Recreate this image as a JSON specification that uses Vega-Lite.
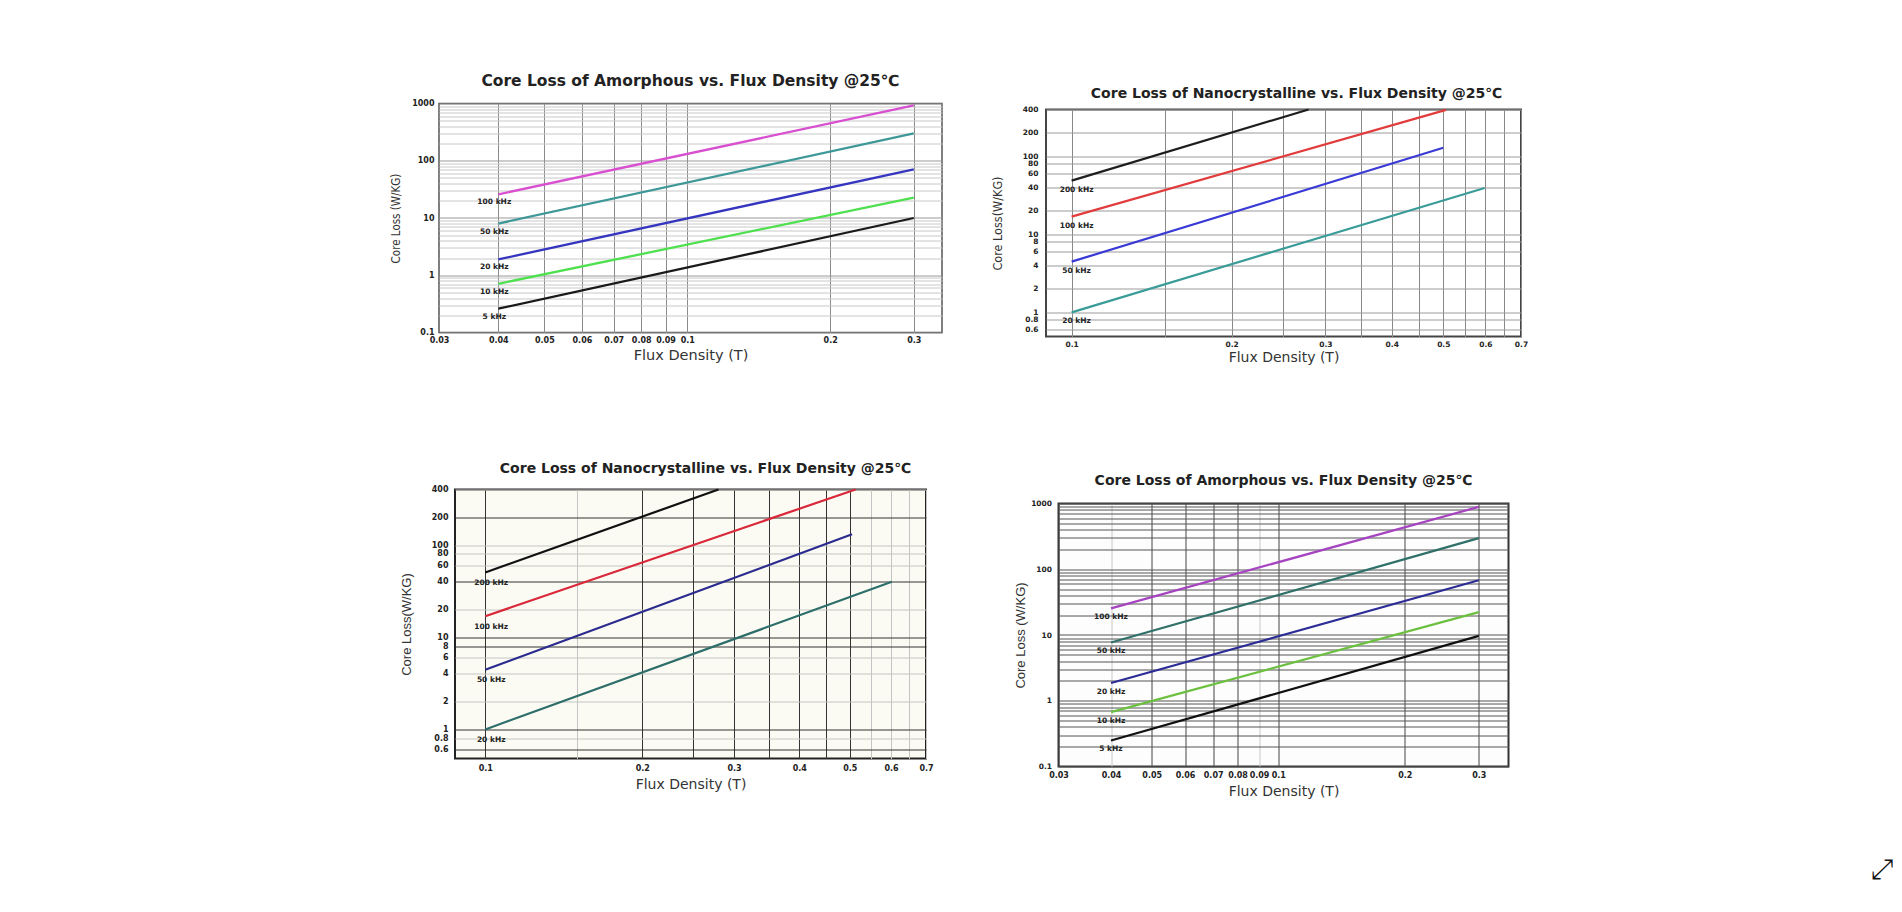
{
  "$schema": "https://vega.github.io/schema/vega-lite/v6.json",
  "background": "white",
  "padding": {"left": 389, "top": 72.5, "right": 0, "bottom": 0},
  "config": {"view": {"stroke": null}},
  "datasets": {
    "amor1": [
      {"f": "100 kHz", "B": 0.04, "P": 25.9}, {"f": "100 kHz", "B": 0.3, "P": 925},
      {"f": "50 kHz", "B": 0.04, "P": 8.0}, {"f": "50 kHz", "B": 0.3, "P": 300},
      {"f": "20 kHz", "B": 0.04, "P": 1.89}, {"f": "20 kHz", "B": 0.3, "P": 71},
      {"f": "10 kHz", "B": 0.04, "P": 0.71}, {"f": "10 kHz", "B": 0.3, "P": 22.7},
      {"f": "5 kHz", "B": 0.04, "P": 0.26}, {"f": "5 kHz", "B": 0.3, "P": 10}
    ],
    "nano2": [
      {"f": "200 kHz", "B": 0.1, "P": 49}, {"f": "200 kHz", "B": 0.279, "P": 400},
      {"f": "100 kHz", "B": 0.1, "P": 16.9}, {"f": "100 kHz", "B": 0.506, "P": 395},
      {"f": "50 kHz", "B": 0.1, "P": 4.47}, {"f": "50 kHz", "B": 0.5, "P": 129},
      {"f": "20 kHz", "B": 0.1, "P": 1.0}, {"f": "20 kHz", "B": 0.598, "P": 39.4}
    ],
    "nano3": [
      {"f": "200 kHz", "B": 0.1, "P": 50.4}, {"f": "200 kHz", "B": 0.28, "P": 400},
      {"f": "100 kHz", "B": 0.1, "P": 16.9}, {"f": "100 kHz", "B": 0.513, "P": 400},
      {"f": "50 kHz", "B": 0.1, "P": 4.44}, {"f": "50 kHz", "B": 0.505, "P": 130.6},
      {"f": "20 kHz", "B": 0.1, "P": 1.0}, {"f": "20 kHz", "B": 0.602, "P": 39.9}
    ],
    "amor4": [
      {"f": "100 kHz", "B": 0.04, "P": 25.4}, {"f": "100 kHz", "B": 0.3, "P": 889},
      {"f": "50 kHz", "B": 0.04, "P": 7.7}, {"f": "50 kHz", "B": 0.3, "P": 297},
      {"f": "20 kHz", "B": 0.04, "P": 1.86}, {"f": "20 kHz", "B": 0.3, "P": 68},
      {"f": "10 kHz", "B": 0.04, "P": 0.67}, {"f": "10 kHz", "B": 0.3, "P": 22.3},
      {"f": "5 kHz", "B": 0.04, "P": 0.248}, {"f": "5 kHz", "B": 0.3, "P": 9.7}
    ],
    "none": []
  },
  "title": {"text": "⤢", "orient": "bottom", "anchor": "end", "font": "DejaVu Sans", "fontSize": 28, "fontWeight": "normal", "color": "#111", "offset": 56, "dx": 364},
  "spacing": 47,
  "resolve": {"scale": {"x": "independent", "y": "independent", "color": "independent"}, "axis": {"x": "independent", "y": "independent"}},
  "hconcat": [
    {
      "vconcat": [
        {
          "width": 503, "height": 229,
          "title": {"text": "Core Loss of Amorphous vs. Flux Density @25℃", "font": "DejaVu Sans", "fontSize": 15.5, "fontWeight": "bold", "color": "#222", "offset": 10.5, "anchor": "middle"},
          "view": {"stroke": "#555", "strokeWidth": 1.5, "fill": "white"},
          "data": {"name": "amor1"},
          "encoding": {
            "x": {"field": "B", "type": "quantitative", "scale": {"type": "log", "domain": [0.03, 0.344], "nice": false},
              "axis": {"values": [0.03, 0.04, 0.05, 0.06, 0.07, 0.08, 0.09, 0.1, 0.2, 0.3], "format": "~g", "grid": true,
                "gridColor": {"condition": {"test": "datum.value == 0.03", "value": "transparent"}, "value": "#8a8a8a"}, "gridWidth": 1,
                "ticks": false, "tickSize": 0, "domain": false, "labelFont": "DejaVu Sans", "labelFontWeight": "bold", "labelFontSize": 8, "labelColor": "#222",
                "labelPadding": 4, "labelOverlap": false, "labelFlush": false, "labelBound": false,
                "title": "Flux Density (T)", "titleFont": "DejaVu Sans", "titleFontSize": 14.5, "titleFontWeight": "normal", "titleColor": "#333", "titlePadding": 4}},
            "y": {"field": "P", "type": "quantitative", "scale": {"type": "log", "domain": [0.1, 1000], "nice": false},
              "axis": {"values": [0.1, 0.2, 0.3, 0.4, 0.5, 0.6, 0.7, 0.8, 0.9, 1, 2, 3, 4, 5, 6, 7, 8, 9, 10, 20, 30, 40, 50, 60, 70, 80, 90, 100, 200, 300, 400, 500, 600, 700, 800, 900, 1000],
                "format": "~g", "labelExpr": "indexof([0.1, 1, 10, 100, 1000], datum.value) >= 0 ? datum.label : ''",
                "grid": true, "gridColor": {"condition": {"test": "indexof([0.1, 1, 10, 100, 1000], datum.value) >= 0", "value": "#999999"}, "value": "#c8c8c8"}, "gridWidth": 1,
                "ticks": false, "tickSize": 0, "domain": false, "labelFont": "DejaVu Sans", "labelFontWeight": "bold", "labelFontSize": 8, "labelColor": "#222",
                "labelPadding": 5, "labelOverlap": false, "labelBound": false, "labelFlush": false,
                "title": "Core Loss (W/KG)", "titleFont": "Liberation Sans Narrow, DejaVu Sans Condensed, Liberation Sans", "titleFontSize": 11.5, "titleFontWeight": "normal", "titleColor": "#333", "titlePadding": 10}}
          },
          "layer": [
            {"mark": {"type": "line", "strokeWidth": 2.3},
              "encoding": {"color": {"field": "f", "type": "nominal", "scale": {"domain": ["100 kHz", "50 kHz", "20 kHz", "10 kHz", "5 kHz"], "range": ["#d84fd0", "#3f9898", "#3535c0", "#4ee04e", "#1a1a1a"]}, "legend": null}}},
            {"transform": [{"filter": "datum.B == 0.04"}],
              "mark": {"type": "text", "dx": -4, "dy": 8, "baseline": "middle", "align": "center", "font": "DejaVu Sans", "fontWeight": "bold", "fontSize": 7.5, "fill": "#222"},
              "encoding": {"text": {"field": "f"}}}
          ]
        },
        {
          "width": 471, "height": 269,
          "title": {"text": "Core Loss of Nanocrystalline vs. Flux Density @25℃", "font": "DejaVu Sans", "fontSize": 14, "fontWeight": "bold", "color": "#222", "offset": 9.5, "anchor": "middle", "dx": 15},
          "view": {"stroke": "#222", "strokeWidth": 2, "fill": "#fbfbf3"},
          "data": {"name": "nano3"},
          "encoding": {
            "x": {"field": "B", "type": "quantitative", "scale": {"type": "log", "domain": [0.0875, 0.7], "nice": false},
              "axis": {"values": [0.1, 0.15, 0.2, 0.25, 0.3, 0.35, 0.4, 0.45, 0.5, 0.55, 0.6, 0.65, 0.7], "format": "~g",
                "labelExpr": "indexof([0.1, 0.2, 0.3, 0.4, 0.5, 0.6, 0.7], datum.value) >= 0 ? datum.label : ''",
                "grid": true, "gridColor": {"condition": {"test": "indexof([0.1, 0.2, 0.25, 0.3, 0.35, 0.4, 0.45, 0.5], datum.value) >= 0", "value": "#333333"}, "value": "#c4c4c4"}, "gridWidth": 1,
                "ticks": false, "tickSize": 0, "domain": false, "labelFont": "DejaVu Sans", "labelFontWeight": "bold", "labelFontSize": 8, "labelColor": "#222",
                "labelPadding": 6, "labelOverlap": false, "labelFlush": false, "labelBound": false,
                "title": "Flux Density (T)", "titleFont": "DejaVu Sans", "titleFontSize": 14, "titleFontWeight": "normal", "titleColor": "#333", "titlePadding": 5}},
            "y": {"field": "P", "type": "quantitative", "scale": {"type": "log", "domain": [0.484, 400], "nice": false},
              "axis": {"values": [0.6, 0.8, 1, 2, 4, 6, 8, 10, 20, 40, 60, 80, 100, 200, 400], "format": "~g",
                "grid": true, "gridColor": {"condition": {"test": "indexof([0.6, 1, 8, 10, 40, 200], datum.value) >= 0", "value": "#333333"}, "value": "#c4c4c4"}, "gridWidth": 1,
                "ticks": false, "tickSize": 0, "domain": false, "labelFont": "DejaVu Sans", "labelFontWeight": "bold", "labelFontSize": 8, "labelColor": "#222",
                "labelPadding": 7, "labelOverlap": false, "labelBound": false, "labelFlush": false,
                "title": "Core Loss(W/KG)", "titleFont": "Liberation Sans", "titleFontSize": 13, "titleFontWeight": "normal", "titleColor": "#333", "titlePadding": 18}}
          },
          "layer": [
            {"mark": {"type": "line", "strokeWidth": 2.2},
              "encoding": {"color": {"field": "f", "type": "nominal", "scale": {"domain": ["200 kHz", "100 kHz", "50 kHz", "20 kHz"], "range": ["#111111", "#d9283a", "#2a2a8f", "#2e6e6a"]}, "legend": null}}},
            {"transform": [{"filter": "datum.B == 0.1"}],
              "mark": {"type": "text", "dx": 6, "dy": 10.5, "baseline": "middle", "align": "center", "font": "DejaVu Sans", "fontWeight": "bold", "fontSize": 7.5, "fill": "#222"},
              "encoding": {"text": {"field": "f"}}}
          ]
        }
      ],
      "spacing": 157, "bounds": "flush", "center": true,
      "resolve": {"scale": {"x": "independent", "y": "independent", "color": "independent"}, "axis": {"x": "independent", "y": "independent"}}
    },
    {
      "vconcat": [
        {
          "width": 1, "height": 5.5,
          "data": {"name": "none"},
          "mark": {"type": "text"},
          "encoding": {}
        },
        {
          "vconcat": [
            {
              "width": 475, "height": 227,
              "title": {"text": "Core Loss of Nanocrystalline vs. Flux Density @25℃", "font": "DejaVu Sans", "fontSize": 14, "fontWeight": "bold", "color": "#222", "offset": 4, "anchor": "middle", "dx": 13},
              "view": {"stroke": "#444", "strokeWidth": 2, "fill": "white"},
              "data": {"name": "nano2"},
              "encoding": {
                "x": {"field": "B", "type": "quantitative", "scale": {"type": "log", "domain": [0.0895, 0.7], "nice": false},
                  "axis": {"values": [0.1, 0.15, 0.2, 0.25, 0.3, 0.35, 0.4, 0.45, 0.5, 0.55, 0.6, 0.65, 0.7], "format": "~g",
                    "labelExpr": "indexof([0.1, 0.2, 0.3, 0.4, 0.5, 0.6, 0.7], datum.value) >= 0 ? datum.label : ''",
                    "grid": true, "gridColor": "#888888", "gridWidth": 1,
                    "ticks": false, "tickSize": 0, "domain": false, "labelFont": "DejaVu Sans", "labelFontWeight": "bold", "labelFontSize": 7.5, "labelColor": "#222",
                    "labelPadding": 4, "labelOverlap": false, "labelFlush": false, "labelBound": false,
                    "title": "Flux Density (T)", "titleFont": "DejaVu Sans", "titleFontSize": 14, "titleFontWeight": "normal", "titleColor": "#333", "titlePadding": 2}},
                "y": {"field": "P", "type": "quantitative", "scale": {"type": "log", "domain": [0.49, 400], "nice": false},
                  "axis": {"values": [0.6, 0.8, 1, 2, 4, 6, 8, 10, 20, 40, 60, 80, 100, 200, 400], "format": "~g",
                    "grid": true, "gridColor": "#9a9a9a", "gridWidth": 1,
                    "ticks": false, "tickSize": 0, "domain": false, "labelFont": "DejaVu Sans", "labelFontWeight": "bold", "labelFontSize": 7.5, "labelColor": "#222",
                    "labelPadding": 8, "labelOverlap": false, "labelBound": false, "labelFlush": false,
                    "title": "Core Loss(W/KG)", "titleFont": "Liberation Sans Narrow, DejaVu Sans Condensed, Liberation Sans", "titleFontSize": 12.5, "titleFontWeight": "normal", "titleColor": "#333", "titlePadding": 18}}
              },
              "layer": [
                {"mark": {"type": "line", "strokeWidth": 2.2},
                  "encoding": {"color": {"field": "f", "type": "nominal", "scale": {"domain": ["200 kHz", "100 kHz", "50 kHz", "20 kHz"], "range": ["#1e1e1e", "#e23b3b", "#3a3ad6", "#3a9c98"]}, "legend": null}}},
                {"transform": [{"filter": "datum.B == 0.1"}],
                  "mark": {"type": "text", "dx": 5, "dy": 9, "baseline": "middle", "align": "center", "font": "DejaVu Sans", "fontWeight": "bold", "fontSize": 7.5, "fill": "#222"},
                  "encoding": {"text": {"field": "f"}}}
              ]
            },
            {
              "width": 450, "height": 263,
              "title": {"text": "Core Loss of Amorphous vs. Flux Density @25℃", "font": "DejaVu Sans", "fontSize": 14, "fontWeight": "bold", "color": "#222", "offset": 12, "anchor": "middle"},
              "view": {"stroke": "#333", "strokeWidth": 2, "fill": "#fdfdfd"},
              "data": {"name": "amor4"},
              "encoding": {
                "x": {"field": "B", "type": "quantitative", "scale": {"type": "log", "domain": [0.03, 0.353], "nice": false},
                  "axis": {"values": [0.03, 0.04, 0.05, 0.06, 0.07, 0.08, 0.09, 0.1, 0.2, 0.3], "format": "~g", "grid": true,
                    "gridColor": {"condition": {"test": "indexof([0.04, 0.09], datum.value) >= 0", "value": "#c8c8c8"}, "value": "#444444"}, "gridWidth": 1,
                    "ticks": false, "tickSize": 0, "domain": false, "labelFont": "DejaVu Sans", "labelFontWeight": "bold", "labelFontSize": 8, "labelColor": "#222",
                    "labelPadding": 5, "labelOverlap": false, "labelFlush": false, "labelBound": false,
                    "title": "Flux Density (T)", "titleFont": "DejaVu Sans", "titleFontSize": 14, "titleFontWeight": "normal", "titleColor": "#333", "titlePadding": 5}},
                "y": {"field": "P", "type": "quantitative", "scale": {"type": "log", "domain": [0.1, 1000], "nice": false},
                  "axis": {"values": [0.1, 0.2, 0.3, 0.4, 0.5, 0.6, 0.7, 0.8, 0.9, 1, 2, 3, 4, 5, 6, 7, 8, 9, 10, 20, 30, 40, 50, 60, 70, 80, 90, 100, 200, 300, 400, 500, 600, 700, 800, 900, 1000],
                    "format": "~g", "labelExpr": "indexof([0.1, 1, 10, 100, 1000], datum.value) >= 0 ? datum.label : ''",
                    "grid": true, "gridColor": "#555555", "gridWidth": 1,
                    "ticks": false, "tickSize": 0, "domain": false, "labelFont": "DejaVu Sans", "labelFontWeight": "bold", "labelFontSize": 7.5, "labelColor": "#222",
                    "labelPadding": 7, "labelOverlap": false, "labelBound": false, "labelFlush": false,
                    "title": "Core Loss (W/KG)", "titleFont": "Liberation Sans", "titleFontSize": 13, "titleFontWeight": "normal", "titleColor": "#333", "titlePadding": 3}}
              },
              "layer": [
                {"mark": {"type": "line", "strokeWidth": 2.2},
                  "encoding": {"color": {"field": "f", "type": "nominal", "scale": {"domain": ["100 kHz", "50 kHz", "20 kHz", "10 kHz", "5 kHz"], "range": ["#a543c0", "#2f7068", "#2c2c96", "#6cc040", "#111111"]}, "legend": null}}},
                {"transform": [{"filter": "datum.B == 0.04"}],
                  "mark": {"type": "text", "dx": 0, "dy": 8.5, "baseline": "middle", "align": "center", "font": "DejaVu Sans", "fontWeight": "bold", "fontSize": 7.5, "fill": "#222"},
                  "encoding": {"text": {"field": "f"}}}
              ]
            }
          ],
          "spacing": 167, "bounds": "flush", "center": true,
          "resolve": {"scale": {"x": "independent", "y": "independent", "color": "independent"}, "axis": {"x": "independent", "y": "independent"}}
        }
      ],
      "spacing": 0, "bounds": "flush",
      "resolve": {"scale": {"x": "independent", "y": "independent", "color": "independent"}, "axis": {"x": "independent", "y": "independent"}}
    }
  ]
}
